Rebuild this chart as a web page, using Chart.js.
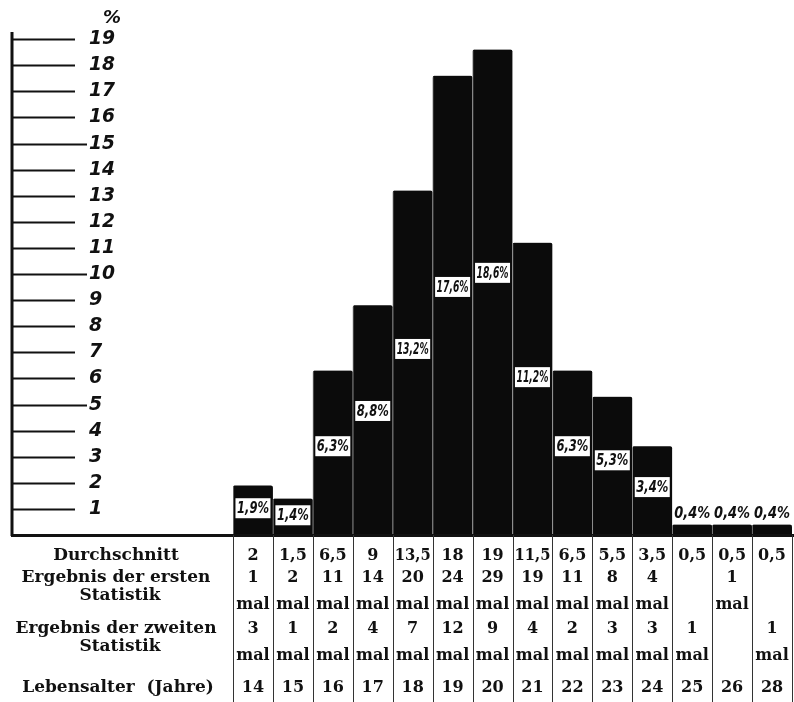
<!DOCTYPE html>
<html>
<head>
<meta charset="utf-8">
<title>Lebensalter</title>
<script src="https://cdn.jsdelivr.net/npm/chart.js@4.4.0/dist/chart.umd.min.js"></script>
<style>
  html, body { margin: 0; padding: 0; background: #fff; }
</style>
</head>
<body>
<canvas id="myChart" width="794" height="702"></canvas>
<script>
"use strict";

// Lebensalter (Jahre) - one column each
const ages = ["14", "15", "16", "17", "18", "19", "20", "21", "22", "23", "24", "25", "26", "28"];
// bar heights in %
const percent = [1.9, 1.4, 6.3, 8.8, 13.2, 17.6, 18.6, 11.2, 6.3, 5.3, 3.4, 0.4, 0.4, 0.4];
// table rows
const average = [2, 1.5, 6.5, 9, 13.5, 18, 19, 11.5, 6.5, 5.5, 3.5, 0.5, 0.5, 0.5];
const firstStat = [1, 2, 11, 14, 20, 24, 29, 19, 11, 8, 4, null, 1, null];
const secondStat = [3, 1, 2, 4, 7, 12, 9, 4, 2, 3, 3, 1, null, 1];
// left scale
const yTicks = [1, 2, 3, 4, 5, 6, 7, 8, 9, 10, 11, 12, 13, 14, 15, 16, 17, 18, 19];

const comma = (v) => String(v).replace(".", ",");

const serif = "'DejaVu Serif', 'Liberation Serif', serif";
const hand = "'DejaVu Sans', 'Liberation Sans', sans-serif";

// left axis with the long tick strokes, drawn off the y scale
const leftAxis = {
  id: "leftAxis",
  afterDraw(chart) {
    const ctx = chart.ctx;
    const y = chart.scales.y;
    const x0 = 12;
    ctx.save();
    ctx.strokeStyle = "#111";
    ctx.lineWidth = 3;
    ctx.beginPath();
    ctx.moveTo(x0, y.getPixelForValue(19.27));
    ctx.lineTo(x0, y.getPixelForValue(0) + 1);
    ctx.stroke();

    ctx.fillStyle = "#111";
    ctx.font = "italic bold 19px " + hand;
    ctx.textBaseline = "middle";
    ctx.textAlign = "left";
    yTicks.forEach((t) => {
      const py = Math.round(y.getPixelForValue(t)) + 0.5;
      ctx.lineWidth = 2;
      ctx.beginPath();
      ctx.moveTo(x0, py);
      ctx.lineTo(t % 5 === 0 ? 87 : 75, py);
      ctx.stroke();
      ctx.fillText(String(t), 89, py, 26);
    });
    ctx.font = "italic bold 18px " + hand;
    ctx.fillText("%", 103, 18);
    ctx.restore();
  },
};

// percent labels on the bars
const barLabels = {
  id: "barLabels",
  afterDatasetsDraw(chart) {
    const ctx = chart.ctx;
    const y = chart.scales.y;
    const bars = chart.getDatasetMeta(0).data;
    ctx.save();
    ctx.font = "italic bold 16px 'Liberation Sans Narrow', 'DejaVu Sans Condensed', " + hand;
    ctx.textAlign = "center";
    ctx.textBaseline = "middle";
    bars.forEach((bar, i) => {
      const v = percent[i];
      const txt = comma(v) + "%";
      if (v < 1) {
        ctx.fillStyle = "#111";
        ctx.fillText(txt, bar.x, bar.y - 11, 36);
        return;
      }
      const cy = y.getPixelForValue(Math.max(v * 0.54, 0.62));
      const w = Math.min(ctx.measureText(txt).width, 32) + 3;
      ctx.fillStyle = "#fff";
      ctx.fillRect(bar.x - w / 2, cy - 10, w, 20);
      ctx.fillStyle = "#111";
      ctx.fillText(txt, bar.x, cy + 1, 32);
    });
    ctx.restore();
  },
};

// table under the bars
const table = {
  id: "table",
  afterDraw(chart) {
    const ctx = chart.ctx;
    const x = chart.scales.x;
    const area = chart.chartArea;
    const base = area.bottom;
    const colW = (area.right - area.left) / ages.length;
    ctx.save();

    // base line
    ctx.strokeStyle = "#111";
    ctx.lineWidth = 3;
    ctx.beginPath();
    ctx.moveTo(11, base + 0.5);
    ctx.lineTo(794, base + 0.5);
    ctx.stroke();

    // column rules
    ctx.lineWidth = 1;
    ctx.strokeStyle = "#333";
    for (let i = 0; i <= ages.length; i++) {
      const px = Math.round(area.left + i * colW) + 0.5;
      ctx.beginPath();
      ctx.moveTo(px, base);
      ctx.lineTo(px, 702);
      ctx.stroke();
    }

    ctx.fillStyle = "#111";
    ctx.textAlign = "center";
    ctx.textBaseline = "middle";
    ctx.font = "bold 17px " + serif;
    const lx = 116;
    ctx.fillText("Durchschnitt", lx, 556);
    ctx.fillText("Ergebnis der ersten", lx, 578, 214);
    ctx.fillText("Statistik", lx + 4, 596);
    ctx.fillText("Ergebnis der zweiten", lx, 629, 214);
    ctx.fillText("Statistik", lx + 4, 647);
    ctx.fillText("Lebensalter  (Jahre)", lx + 2, 688, 216);

    ages.forEach((a, i) => {
      const cx = x.getPixelForValue(i);
      const fit = colW - 4;
      ctx.font = "bold 16px " + serif;
      ctx.fillText(comma(average[i]), cx, 556, fit);
      if (firstStat[i] !== null) {
        ctx.fillText(String(firstStat[i]), cx, 578, fit);
        ctx.fillText("mal", cx, 605, fit);
      }
      if (secondStat[i] !== null) {
        ctx.fillText(String(secondStat[i]), cx, 629, fit);
        ctx.fillText("mal", cx, 656, fit);
      }
      ctx.fillText(a, cx, 688, fit);
    });
    ctx.restore();
  },
};

const ctx = document.getElementById("myChart");

new Chart(ctx, {
  type: "bar",
  data: {
    labels: ages,
    datasets: [
      {
        label: "%",
        data: percent,
        backgroundColor: "#0b0b0b",
        borderColor: "#8a8a8a",
        borderWidth: { top: 0, right: 0, bottom: 0, left: 1 },
        borderRadius: { topLeft: 2, topRight: 2 },
        barPercentage: 1,
        categoryPercentage: 1,
      },
    ],
  },
  options: {
    responsive: false,
    animation: false,
    layout: { padding: { left: 233, right: 2, top: 13, bottom: 167 } },
    plugins: {
      legend: { display: false },
      tooltip: { enabled: false },
    },
    scales: {
      x: { display: false },
      y: { display: false, min: 0, max: 20 },
    },
  },
  plugins: [leftAxis, barLabels, table],
});
</script>
</body>
</html>
